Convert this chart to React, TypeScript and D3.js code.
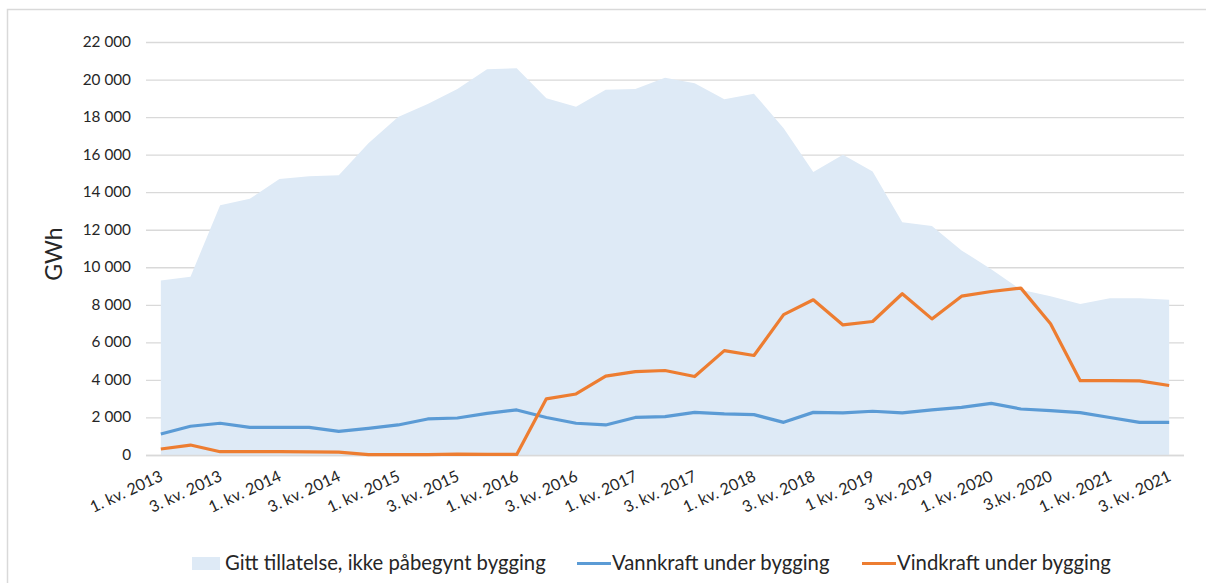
import React from "react";
import * as d3 from "d3";

const quarterLabels: string[] = [
  "1. kv. 2013", "2. kv. 2013", "3. kv. 2013", "4. kv. 2013",
  "1. kv. 2014", "2. kv. 2014", "3. kv. 2014", "4. kv. 2014",
  "1. kv. 2015", "2. kv. 2015", "3. kv. 2015", "4. kv. 2015",
  "1. kv. 2016", "2. kv. 2016", "3. kv. 2016", "4. kv. 2016",
  "1. kv. 2017", "2. kv. 2017", "3. kv. 2017", "4. kv. 2017",
  "1. kv. 2018", "2. kv. 2018", "3. kv. 2018", "4. kv. 2018",
  "1 kv. 2019", "2 kv. 2019", "3 kv. 2019", "4 kv. 2019",
  "1. kv. 2020", "2. kv. 2020", "3.kv. 2020", "4.kv. 2020",
  "1. kv. 2021", "2. kv. 2021", "3. kv. 2021",
];

const gittTillatelse: number[] = [
  9300, 9500, 13300, 13650, 14700, 14850, 14900, 16600,
  18000, 18700, 19500, 20550, 20600, 19000, 18550, 19450,
  19500, 20100, 19800, 18950, 19250, 17400, 15070, 16000,
  15100, 12400, 12200, 10900, 9900, 8800, 8450, 8050,
  8350, 8350, 8270,
];

const vannkraft: number[] = [
  1120, 1530, 1690, 1470, 1470, 1470, 1260, 1420,
  1600, 1920, 1970, 2220, 2400, 2000, 1690, 1600,
  2000, 2040, 2270, 2190, 2150, 1740, 2270, 2240,
  2330, 2240, 2400, 2540, 2750, 2450, 2360, 2260,
  2000, 1740, 1740,
];

const vindkraft: number[] = [
  320, 530, 175, 175, 175, 170, 150, 20,
  20, 20, 50, 30, 30, 2990, 3250, 4200,
  4440, 4500, 4180, 5560, 5300, 7480, 8270, 6930,
  7110, 8590, 7250, 8460, 8710, 8890, 6990, 3960,
  3960, 3950, 3700,
];

const yTicks: number[] = d3.range(0, 22001, 2000);

const legendItems = [
  { label: "Gitt tillatelse, ikke påbegynt bygging", kind: "area" },
  { label: "Vannkraft under bygging", kind: "blue" },
  { label: "Vindkraft under bygging", kind: "orange" },
];

const AREA = "#deeaf6";
const BLUE = "#5b9bd5";
const ORANGE = "#ed7d31";
const GRID = "#d9d9d9";
const FONT = "Lato, 'Open Sans', sans-serif";

export default function App() {
  const W = 1206;
  const H = 583;
  const x = d3.scaleBand<string>().domain(quarterLabels).range([146, 1184]).padding(0);
  const y = d3.scaleLinear().domain([0, 22000]).range([455, 42]);
  const cx = (i: number) => (x(quarterLabels[i]) as number) + x.bandwidth() / 2;

  const areaGen = d3
    .area<number>()
    .x((_, i) => cx(i))
    .y0(y(0))
    .y1((d) => y(d));
  const lineGen = d3
    .line<number>()
    .x((_, i) => cx(i))
    .y((d) => y(d));

  const fmt = (v: number) => (v >= 1000 ? d3.format(",")(v).replace(",", " ") : String(v));

  return (
    <div style={{ position: "fixed", left: 0, top: 0, width: W, height: H, background: "#fff" }}>
      <svg width={W} height={H} style={{ display: "block" }} fontFamily={FONT}>
        <rect x={7.5} y={9.5} width={1300} height={700} fill="none" stroke={GRID} strokeWidth={1.5} />
        {yTicks.map((t) => (
          <g key={t}>
            <line x1={146} x2={1184} y1={y(t) + 0.5} y2={y(t) + 0.5} stroke={GRID} strokeWidth={1.3} />
            <text x={131} y={y(t) + 5} textAnchor="end" fontSize={15.3} fill="#262626">
              {fmt(t)}
            </text>
          </g>
        ))}
        <path d={areaGen(gittTillatelse) || ""} fill={AREA} />
        <line x1={146} x2={1184} y1={y(0) + 0.5} y2={y(0) + 0.5} stroke={GRID} strokeWidth={1.3} />
        <path d={lineGen(vannkraft) || ""} fill="none" stroke={BLUE} strokeWidth={3.2} strokeLinejoin="round" />
        <path d={lineGen(vindkraft) || ""} fill="none" stroke={ORANGE} strokeWidth={3.2} strokeLinejoin="round" />
        {quarterLabels.map((q, i) =>
          i % 2 === 0 ? (
            <text
              key={q}
              transform={`translate(${cx(i) + 3},${y(0) + 25}) rotate(-25)`}
              textAnchor="end"
              fontSize={16}
              fill="#262626"
            >
              {q}
            </text>
          ) : null
        )}
        <text transform={`translate(62,254) rotate(-90)`} textAnchor="middle" fontSize={23} fill="#262626">
          GWh
        </text>
        {legendItems.map((it, k) => {
          const lx = [192, 577, 862][k];
          const tx = [225, 612, 897][k];
          return (
            <g key={it.label}>
              {it.kind === "area" ? (
                <rect x={lx} y={557} width={28} height={13} fill={AREA} />
              ) : (
                <line x1={lx} x2={lx + 34} y1={563.5} y2={563.5} stroke={it.kind === "blue" ? BLUE : ORANGE} strokeWidth={3.2} />
              )}
              <text x={tx} y={570} fontSize={20.3} fill="#262626">
                {it.label}
              </text>
            </g>
          );
        })}
      </svg>
    </div>
  );
}
